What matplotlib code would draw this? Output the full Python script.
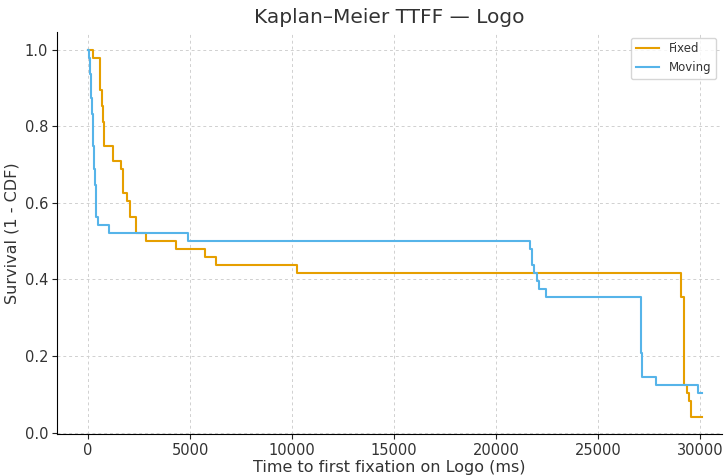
import matplotlib.pyplot as plt

# Kaplan-Meier step curves (time in ms, survival after each step)
fixed_t = [0, 250, 600, 660, 710, 760, 1240, 1590, 1700, 1900, 2060, 2330, 2830,
           4300, 5750, 6260, 10260, 29100, 29230, 29350, 29480, 29560, 30130]
fixed_s = [48, 47, 43, 41, 39, 36, 34, 33, 30, 29, 27, 25, 24,
           23, 22, 21, 20, 17, 6, 5, 4, 2, 2]

moving_t = [0, 50, 110, 160, 210, 260, 300, 340, 390, 500, 1030, 4920, 21670,
            21780, 21850, 21990, 22110, 22450, 27130, 27180, 27840, 29890, 30130]
moving_s = [48, 47, 45, 42, 40, 36, 33, 31, 27, 26, 25, 24, 23,
            21, 20, 19, 18, 17, 10, 7, 6, 5, 5]

n_subjects = 48
txt = '#333333'

fig, ax = plt.subplots(figsize=(7.24, 4.75), dpi=100)

ax.step(fixed_t, [s / n_subjects for s in fixed_s], where='post',
        color='#E69F00', lw=1.5, label='Fixed')
ax.step(moving_t, [s / n_subjects for s in moving_s], where='post',
        color='#56B4E9', lw=1.5, label='Moving')

ax.set_xlim(-1520, 31080)
ax.set_ylim(-0.004, 1.047)
ax.grid(True, linestyle=(0, (3, 3)), color='#d0d0d0', linewidth=0.7)
ax.spines['top'].set_visible(False)
ax.spines['right'].set_visible(False)
ax.tick_params(labelsize=10.5, colors=txt, length=3.5, pad=3)
ax.tick_params(axis='both', color='#222222')
ax.set_title('Kaplan–Meier TTFF — Logo', fontsize=14.5, color=txt)
ax.set_xlabel('Time to first fixation on Logo (ms)', fontsize=11.5, labelpad=1, color=txt)
ax.set_ylabel('Survival (1 - CDF)', fontsize=11.5, color=txt)
leg = ax.legend(loc='upper right', fontsize=8.5)
for t in leg.get_texts():
    t.set_color(txt)

fig.subplots_adjust(left=0.079, right=0.997, top=0.933, bottom=0.086)
fig.savefig('out.png')
